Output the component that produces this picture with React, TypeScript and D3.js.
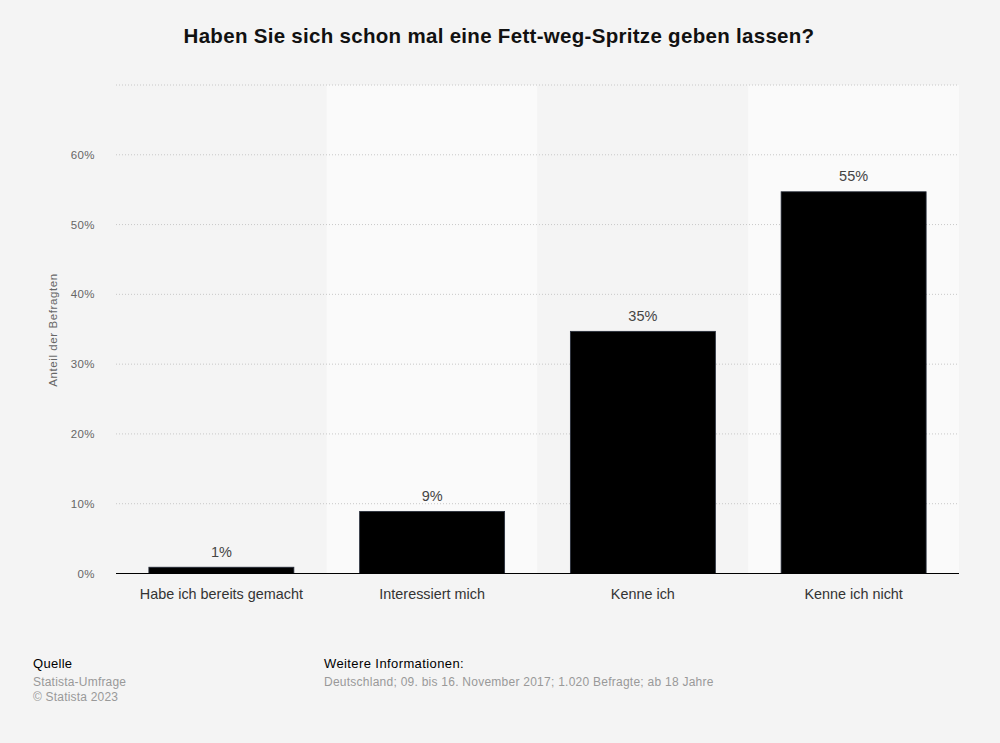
import React from "react";
import * as d3 from "d3";

const categories = ["Habe ich bereits gemacht", "Interessiert mich", "Kenne ich", "Kenne ich nicht"];
const values = [0.9, 8.9, 34.7, 54.7];
const yTicks = [0, 10, 20, 30, 40, 50, 60, 70];

const W = 1000;
const H = 743;
const FONT = "'Liberation Sans', Arial, Helvetica, sans-serif";

export default function App() {
  const x = d3.scaleBand<string>().domain(categories).range([116, 959]).paddingInner(0).paddingOuter(0);
  const y = d3.scaleLinear().domain([0, 70]).range([573.5, 85]);
  const bw = x.bandwidth();
  const barW = bw * 0.688;
  const fmt = d3.format(".0f");

  return (
    <div style={{ position: "absolute", left: 0, top: 0, width: W, height: H }}>
      <svg width={W} height={H} style={{ display: "block", fontFamily: FONT }}>
        <rect x={0} y={0} width={W} height={H} fill="#f4f4f4" />
        {categories.map((c, i) => (
          <rect key={"bg" + c} x={x(c)} y={y(70)} width={bw} height={y(0) - y(70)} fill={i % 2 === 1 ? "#fafafa" : "#f4f4f4"} />
        ))}
        <text x={499} y={43} textAnchor="middle" fontSize={20.5} letterSpacing={0.3} fontWeight="bold" fill="#111">
          Haben Sie sich schon mal eine Fett-weg-Spritze geben lassen?
        </text>
        {yTicks.map((t) => (
          <g key={"t" + t}>
            {t > 0 && (
              <line x1={116} x2={959} y1={y(t)} y2={y(t)} stroke="#c8c8c8" strokeWidth={1} strokeDasharray="1,2" />
            )}
            {t < 70 && (
              <text x={95} y={y(t) + 4} textAnchor="end" fontSize={11.5} letterSpacing={0.4} fill="#666">
                {t}%
              </text>
            )}
          </g>
        ))}
        <text transform={`translate(57,330) rotate(-90)`} textAnchor="middle" fontSize={11.5} letterSpacing={0.6} fill="#666">
          Anteil der Befragten
        </text>
        {categories.map((c, i) => {
          const cx = (x(c) as number) + bw / 2;
          return (
            <g key={c}>
              <rect x={cx - barW / 2} y={y(values[i])} width={barW} height={y(0) - y(values[i])} fill="#000" stroke="#262d3a" strokeWidth={0.8} />
              <text x={cx} y={y(values[i]) - 10.5} textAnchor="middle" fontSize={14.5} fill="#444">
                {fmt(values[i])}%
              </text>
              <text x={cx} y={599} textAnchor="middle" fontSize={14.4} fill="#333">
                {c}
              </text>
            </g>
          );
        })}
        <line x1={116} x2={959} y1={y(0)} y2={y(0)} stroke="#000" strokeWidth={1.2} />
        <text x={33} y={668} fontSize={13} letterSpacing={0.3} fill="#000">Quelle</text>
        <text x={33} y={686} fontSize={12} letterSpacing={0.2} fill="#999">Statista-Umfrage</text>
        <text x={33} y={701} fontSize={12} letterSpacing={0.2} fill="#999">© Statista 2023</text>
        <text x={324} y={668} fontSize={13} letterSpacing={0.4} fill="#000">Weitere Informationen:</text>
        <text x={324} y={686} fontSize={12} letterSpacing={0.25} fill="#999">
          Deutschland; 09. bis 16. November 2017; 1.020 Befragte; ab 18 Jahre
        </text>
      </svg>
    </div>
  );
}
